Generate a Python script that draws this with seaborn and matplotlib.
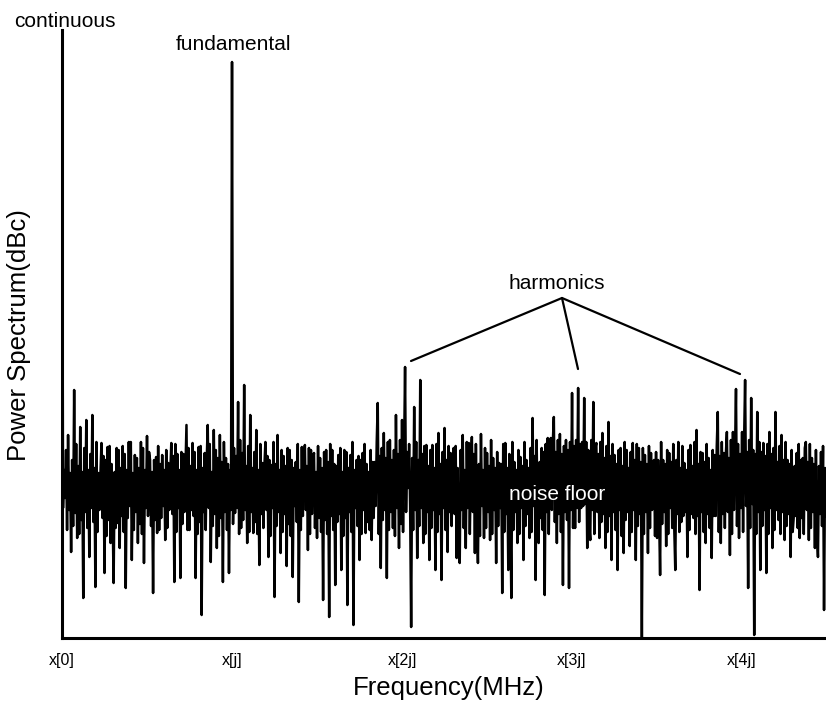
import matplotlib
matplotlib.use("Agg")
import matplotlib.pyplot as plt
import pandas as pd
import seaborn as sns

# ---- data (power in arbitrary display units) ----
# spike samples (every third sample of the spectrum)
peak_a = [610, 140, 203, 86, 248, 100, 211, 40, 218, 81,
          223, 51, 165, 195, 65, 191, 95, 55, 190, 90,
          192, 50, 196, 78, 183, 95, 196, 75, 202, 178,
          45, 181, 108, 183, 98, 175, 195, 56, 184, 60,
          184, 213, 108]
peak_b = [195, 60, 191, 23, 185, 213, 76, 208, 90, 203,
          56, 180, 65, 576, 125, 236, 110, 253, 95, 223,
          105, 208, 73, 175, 196, 81, 173, 41, 203, 85,
          182, 72, 188, 61, 176, 36, 191, 193, 88, 188,
          185, 100, 180]
peak_c = [38, 188, 21, 188, 53, 183, 68, 188, 33, 183,
          13, 178, 78, 185, 105, 166, 98, 176, 235, 70,
          205, 60, 198, 110, 223, 90, 218, 271, 150, 11,
          231, 80, 258, 95, 193, 78, 193, 68, 205, 58,
          210, 86, 185]
peak_d = [190, 80, 75, 203, 90, 195, 201, 85, 75, 204,
          100, 185, 98, 180, 75, 175, 45, 195, 68, 40,
          176, 95, 181, 78, 178, 100, 220, 58, 95, 190,
          43, 200, 200, 221, 95, 204, 53, 198, 50, 245,
          110, 250, 130]
peak_e = [240, 90, 98, 236, 195, 100, 205, 90, 216, 78,
          183, 68, 190, 85, 188, 92, 195, 78, 190, 0,
          183, 85, 185, 178, 100, 63, 178, 92, 185, 110,
          68, 196, 116, 175, 81, 193, 120, 208, 48, 185,
          95, 180, 80]
peak_f = [183, 226, 95, 185, 206, 83, 206, 249, 100, 206,
          258, 50, 240, 3, 226, 68, 195, 65, 206, 90,
          226, 118, 203, 98, 178, 81, 120, 185, 100, 180,
          196, 98, 180, 90, 81, 186, 28]

# lower / upper edge samples of the dense noise band between spikes
band_lo_a = [130, 108, 128, 112, 125, 104, 118, 126, 110, 130,
             116, 106, 128, 120, 102, 118, 125, 110, 115, 122,
             106, 120, 132, 108, 126, 114, 104, 130, 122, 112,
             118, 105, 120, 132, 110, 128, 124, 106, 130, 114,
             126, 108, 128]
band_hi_a = [168, 188, 165, 178, 194, 172, 166, 190, 168, 184,
             170, 196, 165, 182, 178, 192, 174, 166, 188, 170,
             184, 168, 196, 165, 180, 170, 190, 168, 186, 166,
             178, 192, 174, 168, 188, 165, 182, 194, 168, 186,
             170, 190, 172]
band_lo_b = [122, 104, 116, 126, 108, 130, 112, 124, 102, 120,
             126, 108, 128, 114, 130, 104, 118, 128, 106, 126,
             116, 104, 124, 110, 128, 102, 130, 112, 126, 106,
             124, 114, 102, 132, 116, 108, 122, 128, 104, 124,
             110, 120, 106]
band_hi_b = [186, 168, 192, 170, 178, 194, 166, 188, 180, 176,
             196, 174, 168, 190, 182, 198, 185, 172, 192, 170,
             186, 168, 194, 172, 182, 178, 196, 174, 168, 188,
             172, 190, 178, 170, 194, 168, 184, 172, 190, 178,
             166, 192, 170]
band_lo_c = [118, 104, 122, 108, 116, 124, 102, 120, 126, 106,
             130, 112, 104, 128, 116, 108, 120, 132, 104, 118,
             128, 108, 126, 102, 130, 114, 106, 126, 132, 108,
             128, 112, 130, 104, 126, 110, 128, 106, 124, 130,
             108, 126, 112]
band_hi_c = [186, 176, 194, 174, 172, 190, 166, 186, 170, 196,
             168, 182, 178, 194, 174, 188, 176, 196, 182, 190,
             180, 196, 178, 188, 184, 198, 182, 186, 194, 180,
             196, 178, 184, 192, 172, 188, 170, 194, 174, 186,
             178, 192, 174]
band_lo_d = [124, 106, 128, 110, 130, 104, 126, 118, 102, 132,
             110, 126, 104, 128, 112, 130, 106, 124, 128, 108,
             126, 104, 130, 112, 124, 106, 132, 114, 120, 108,
             126, 104, 128, 116, 124, 106, 126, 118, 128, 110,
             130, 116, 132]
band_hi_d = [192, 170, 188, 168, 196, 172, 184, 194, 174, 168,
             190, 172, 198, 170, 186, 174, 194, 170, 184, 196,
             168, 188, 172, 196, 170, 190, 182, 198, 176, 186,
             194, 184, 196, 186, 198, 184, 192, 188, 196, 192,
             198, 194, 196]
band_lo_e = [134, 112, 128, 104, 126, 116, 124, 106, 122, 126,
             108, 128, 102, 118, 126, 106, 128, 112, 124, 104,
             126, 110, 128, 102, 124, 114, 126, 104, 130, 110,
             124, 106, 122, 126, 108, 124, 104, 122, 126, 106,
             124, 110, 122]
band_hi_e = [196, 188, 198, 190, 184, 196, 180, 192, 182, 194,
             174, 188, 172, 196, 170, 186, 178, 194, 176, 190,
             174, 192, 176, 186, 178, 196, 174, 188, 176, 194,
             178, 170, 192, 168, 188, 172, 196, 174, 186, 176,
             194, 168, 188]
band_lo_f = [122, 106, 124, 110, 126, 104, 128, 112, 130, 106,
             132, 110, 134, 104, 126, 112, 128, 104, 130, 108,
             128, 104, 126, 112, 124, 106, 122, 110, 120, 104,
             128, 110, 126, 104, 124, 112, 122]
band_hi_f = [192, 182, 196, 184, 180, 198, 182, 194, 184, 196,
             186, 198, 188, 184, 196, 186, 182, 194, 184, 190,
             176, 192, 178, 196, 174, 188, 172, 194, 178, 190,
             176, 194, 174, 188, 172, 192, 170]

tick_samples = [0, 168, 336, 504, 672]
tick_labels = ["x[0]", "x[j]", "x[2j]", "x[3j]", "x[4j]"]

peaks = peak_a + peak_b + peak_c + peak_d + peak_e + peak_f
band_lo = band_lo_a + band_lo_b + band_lo_c + band_lo_d + band_lo_e + band_lo_f
band_hi = band_hi_a + band_hi_b + band_hi_c + band_hi_d + band_hi_e + band_hi_f
power = []
for p, lo, hi in zip(peaks, band_lo, band_hi):
    # zig-zag: after an upward spike go down first, after a dip go up first
    power.extend([p, lo, hi] if p > 150 else [p, hi, lo])
df = pd.DataFrame({"sample": list(range(len(power))), "power": power})

# ---- style ----
sns.set_style("white")
plt.rcParams["font.family"] = ["Liberation Sans", "DejaVu Sans"]
plt.rcParams["text.color"] = "black"
plt.rcParams["axes.labelcolor"] = "black"
plt.rcParams["xtick.color"] = "black"

STEP = 3.036 / 3  # pixels per sample
fig = plt.figure(figsize=(8.26, 7.07), dpi=100)
ax = fig.add_axes([62 / 826, 1 - 638 / 707, 764 / 826, 608 / 707])

sns.lineplot(data=df, x="sample", y="power", ax=ax, color="black",
             linewidth=1.8, sort=False, estimator=None)

ax.set_xlim(0, 764 / STEP)
ax.set_ylim(0, 608)

for s in ["top", "right"]:
    ax.spines[s].set_visible(False)
for s in ["left", "bottom"]:
    ax.spines[s].set_linewidth(2.2)
    ax.spines[s].set_color("black")

ax.set_yticks([])
ax.set_xticks(tick_samples)
ax.set_xticklabels(tick_labels, fontsize=11.5, color="black")
ax.tick_params(axis="x", length=0, pad=11)

ax.set_xlabel("Frequency(MHz)", fontsize=18.5, color="black")
ax.set_ylabel("Power Spectrum(dBc)", fontsize=18.5, color="black")
ax.xaxis.set_label_coords((449 - 62) / 764, (638 - 676) / 608)
ax.yaxis.set_label_coords((31 - 62) / 764, (638 - 335) / 608)


def px(xp, yp):
    return (xp - 62) / STEP, 638 - yp


ax.text(*px(65, 22), "continuous", fontsize=15, ha="center", va="center",
        color="black")
ax.text(*px(234, 45), "fundamental", fontsize=15, ha="center", va="center",
        color="black")
ax.text(*px(557, 284), "harmonics", fontsize=15, ha="center", va="center",
        color="black")
ax.text(*px(557, 495), "noise floor", fontsize=15, ha="center", va="center",
        color="white", zorder=5)

apex = px(562, 298)
for end in [px(411, 361), px(578, 369), px(740, 374)]:
    ax.plot([apex[0], end[0]], [apex[1], end[1]], color="black", lw=1.6)

fig.savefig("out.png", dpi=100)
